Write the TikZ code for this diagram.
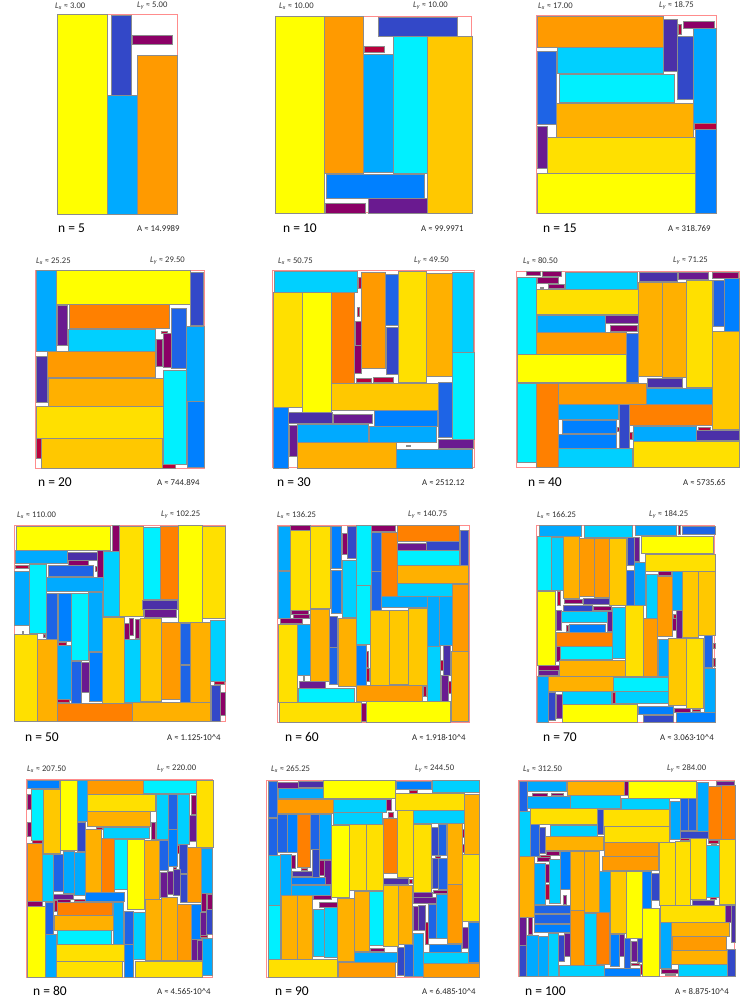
\documentclass[tikz,border=0pt]{standalone}
\usepackage{fontspec}
\setmainfont{Carlito}
\definecolor{Y1}{HTML}{FFFF00}
\definecolor{Y2}{HTML}{FFE000}
\definecolor{Y3}{HTML}{FFC800}
\definecolor{O1}{HTML}{FFB000}
\definecolor{O2}{HTML}{FF9A00}
\definecolor{O3}{HTML}{FF8000}
\definecolor{C1}{HTML}{00F0FF}
\definecolor{C2}{HTML}{00D0FF}
\definecolor{C3}{HTML}{00AAFF}
\definecolor{B1}{HTML}{0080FF}
\definecolor{B2}{HTML}{1E64E6}
\definecolor{B3}{HTML}{3348C8}
\definecolor{P1}{HTML}{4B30A8}
\definecolor{P2}{HTML}{6A1A90}
\definecolor{M1}{HTML}{8B0066}
\definecolor{M2}{HTML}{B8003C}
\newcommand\Rct[5]{\filldraw[fill=#5,draw=black!45,line width=0.25pt] (#1,#2) rectangle (#3,#4);}
\newcommand\Frm[4]{\draw[draw=red!45,line width=0.6pt] (#1,#2) rectangle (#3,#4);}
\newcommand\LxT[1]{{\itshape L\textsubscript{x}} ≈ #1}
\newcommand\LyT[1]{{\itshape L\textsubscript{y}} ≈ #1}
\begin{document}
\begin{tikzpicture}[x=1pt,y=-1pt,
  lab/.style={font=\fontsize{8.6}{9}\selectfont,text=black!80,inner sep=0pt,anchor=west},
  nlab/.style={font=\fontsize{13.5}{14}\selectfont,inner sep=0pt,anchor=west},
  alab/.style={font=\fontsize{8.8}{9}\selectfont,text=black!85,inner sep=0pt,anchor=west}]
\fill[white] (0,0) rectangle (747,1000);
\useasboundingbox (0,0) rectangle (747,1000);
% ---------- panel 1
\begin{scope}[shift={(40,0)},scale=1/3]
\Frm{52}{42}{412}{642}
\Rct{52}{42}{202}{642}{Y1}
\Rct{212}{45}{272}{285}{B3}
\Rct{202}{285}{292}{642}{C3}
\Rct{292}{165}{412}{642}{O2}
\Rct{277}{105}{397}{133}{M1}
\end{scope}
% ---------- panel 2
\begin{scope}[shift={(260,0)},scale=1/3]
\Frm{45}{48}{635}{638}
\Rct{45}{48}{192}{638}{Y1}
\Rct{192}{48}{310}{520}{O2}
\Rct{355}{50}{590}{107}{B3}
\Rct{312}{138}{372}{155}{M2}
\Rct{310}{162}{398}{515}{C3}
\Rct{398}{108}{502}{520}{C1}
\Rct{502}{108}{635}{638}{Y3}
\Rct{198}{522}{493}{595}{B1}
\Rct{196}{608}{315}{638}{M1}
\Rct{323}{595}{500}{638}{P2}
\end{scope}
% ---------- panel 3
\begin{scope}[shift={(520,0)},scale=1/3]
\Frm{50}{45}{588}{640}
\Rct{52}{48}{430}{142}{O2}
\Rct{430}{57}{470}{213}{P1}
\Rct{474}{72}{484}{102}{M2}
\Rct{488}{62}{582}{85}{M1}
\Rct{470}{108}{518}{297}{B3}
\Rct{518}{85}{588}{370}{C3}
\Rct{112}{142}{430}{220}{C2}
\Rct{52}{153}{108}{372}{B2}
\Rct{116}{222}{462}{307}{C1}
\Rct{108}{308}{518}{410}{O1}
\Rct{52}{378}{82}{503}{P2}
\Rct{523}{370}{588}{387}{M2}
\Rct{82}{412}{525}{520}{Y2}
\Rct{52}{520}{525}{640}{Y1}
\Rct{525}{387}{588}{640}{B1}
\end{scope}
% ---------- panel 4
\begin{scope}[shift={(20,255)},scale=1/3]
\Frm{45}{45}{553}{640}
\Rct{47}{45}{107}{287}{C3}
\Rct{108}{45}{510}{147}{Y1}
\Rct{510}{50}{550}{210}{B3}
\Rct{110}{150}{140}{270}{P2}
\Rct{147}{148}{448}{220}{O3}
\Rct{145}{222}{405}{287}{C2}
\Rct{422}{228}{442}{233}{M2}
\Rct{407}{253}{427}{333}{M1}
\Rct{428}{233}{452}{335}{M1}
\Rct{453}{160}{498}{340}{B2}
\Rct{498}{213}{553}{437}{C3}
\Rct{47}{302}{82}{440}{P1}
\Rct{82}{288}{405}{367}{O2}
\Rct{85}{368}{428}{453}{O1}
\Rct{428}{345}{498}{628}{C1}
\Rct{47}{453}{428}{550}{Y2}
\Rct{47}{550}{63}{610}{M2}
\Rct{63}{550}{425}{640}{Y3}
\Rct{500}{437}{553}{637}{B1}
\Rct{425}{628}{465}{640}{M2}
\end{scope}
% ---------- panel 5
\begin{scope}[shift={(260,255)},scale=1/3]
\Frm{38}{45}{642}{638}
\Rct{42}{48}{292}{110}{C2}
\Rct{293}{65}{302}{100}{M2}
\Rct{303}{52}{375}{338}{O2}
\Rct{375}{57}{415}{210}{B2}
\Rct{378}{215}{413}{357}{B3}
\Rct{415}{48}{498}{382}{Y2}
\Rct{498}{53}{577}{362}{O1}
\Rct{577}{50}{640}{290}{C2}
\Rct{38}{112}{125}{457}{Y2}
\Rct{125}{112}{213}{470}{Y1}
\Rct{213}{112}{282}{385}{O3}
\Rct{291}{157}{298}{183}{M2}
\Rct{285}{198}{302}{270}{M1}
\Rct{282}{270}{303}{353}{M1}
\Rct{287}{370}{333}{380}{M2}
\Rct{340}{367}{398}{382}{M2}
\Rct{213}{385}{535}{465}{Y3}
\Rct{577}{290}{642}{552}{C1}
\Rct{535}{380}{577}{545}{B2}
\Rct{38}{457}{85}{638}{B1}
\Rct{85}{472}{217}{503}{P1}
\Rct{218}{477}{335}{505}{P2}
\Rct{342}{465}{532}{512}{B1}
\Rct{87}{510}{110}{602}{P2}
\Rct{110}{507}{325}{560}{C3}
\Rct{327}{513}{528}{562}{C3}
\Rct{535}{553}{640}{580}{P2}
\Rct{438}{570}{450}{574}{M2}
\Rct{110}{562}{408}{638}{O1}
\Rct{408}{582}{637}{638}{C3}
\end{scope}
% ---------- panel 6
\begin{scope}[shift={(505,255)},scale=1/3]
\Frm{33}{48}{702}{638}
\Rct{62}{48}{105}{60}{M1}
\Rct{110}{48}{168}{63}{M1}
\Rct{95}{67}{160}{83}{M1}
\Rct{128}{88}{178}{100}{M1}
\Rct{105}{95}{115}{99}{M2}
\Rct{180}{50}{395}{102}{C2}
\Rct{402}{50}{515}{77}{P1}
\Rct{518}{50}{608}{73}{P2}
\Rct{620}{50}{700}{68}{M1}
\Rct{35}{67}{92}{298}{C1}
\Rct{92}{102}{398}{178}{Y2}
\Rct{95}{180}{300}{230}{C3}
\Rct{300}{180}{400}{203}{P2}
\Rct{315}{210}{397}{228}{M1}
\Rct{92}{232}{363}{298}{O2}
\Rct{363}{233}{400}{380}{B2}
\Rct{35}{298}{363}{380}{Y1}
\Rct{400}{80}{470}{362}{O1}
\Rct{470}{80}{542}{367}{O1}
\Rct{542}{75}{622}{397}{Y2}
\Rct{623}{75}{657}{213}{B2}
\Rct{657}{70}{702}{228}{B1}
\Rct{622}{228}{702}{522}{Y3}
\Rct{425}{368}{530}{397}{P1}
\Rct{35}{383}{93}{622}{C1}
\Rct{93}{383}{158}{635}{O3}
\Rct{158}{383}{422}{447}{O2}
\Rct{422}{398}{622}{448}{C3}
\Rct{160}{448}{340}{492}{C3}
\Rct{342}{448}{373}{578}{B3}
\Rct{373}{448}{622}{510}{O3}
\Rct{170}{495}{333}{533}{B1}
\Rct{335}{515}{342}{528}{M2}
\Rct{372}{530}{382}{552}{M2}
\Rct{160}{537}{333}{578}{B1}
\Rct{383}{512}{573}{557}{C3}
\Rct{580}{515}{615}{525}{M2}
\Rct{573}{525}{702}{555}{P1}
\Rct{158}{580}{382}{635}{C2}
\Rct{383}{558}{702}{635}{Y2}
\end{scope}
% ---------- panel 7
\begin{scope}[shift={(0,508)},scale=1/3]
\Frm{42}{52}{676}{640}
\Rct{47}{55}{330}{125}{Y1}
\Rct{337}{52}{357}{128}{M1}
\Rct{357}{55}{428}{325}{Y2}
\Rct{428}{57}{480}{272}{C1}
\Rct{480}{55}{535}{272}{O3}
\Rct{535}{52}{607}{342}{Y1}
\Rct{607}{55}{676}{330}{Y2}
\Rct{45}{125}{202}{165}{C3}
\Rct{202}{132}{290}{155}{P1}
\Rct{203}{155}{265}{170}{M1}
\Rct{290}{127}{308}{208}{M1}
\Rct{45}{172}{85}{180}{M2}
\Rct{145}{170}{278}{205}{B2}
\Rct{285}{173}{290}{188}{M2}
\Rct{308}{130}{358}{325}{C2}
\Rct{42}{188}{87}{352}{C3}
\Rct{87}{168}{137}{375}{C1}
\Rct{137}{207}{310}{250}{C3}
\Rct{137}{255}{172}{392}{B2}
\Rct{175}{255}{212}{400}{B1}
\Rct{212}{255}{263}{455}{C1}
\Rct{263}{252}{307}{430}{C3}
\Rct{427}{275}{530}{302}{P1}
\Rct{432}{302}{528}{327}{P2}
\Rct{42}{377}{110}{640}{Y2}
\Rct{110}{393}{172}{640}{O1}
\Rct{65}{370}{68}{377}{M2}
\Rct{130}{377}{135}{388}{M2}
\Rct{175}{403}{198}{410}{M2}
\Rct{172}{412}{212}{575}{C3}
\Rct{213}{458}{243}{585}{B2}
\Rct{243}{462}{268}{552}{P2}
\Rct{268}{432}{307}{580}{B1}
\Rct{307}{327}{372}{585}{Y3}
\Rct{373}{345}{386}{392}{M1}
\Rct{387}{330}{398}{382}{M1}
\Rct{405}{332}{418}{390}{M1}
\Rct{372}{392}{420}{583}{C2}
\Rct{420}{330}{482}{580}{Y3}
\Rct{482}{342}{540}{572}{O2}
\Rct{540}{345}{570}{468}{B2}
\Rct{540}{470}{570}{583}{B2}
\Rct{570}{342}{630}{583}{O1}
\Rct{630}{335}{676}{518}{C2}
\Rct{643}{520}{672}{527}{M2}
\Rct{632}{532}{660}{640}{B3}
\Rct{660}{552}{676}{620}{M1}
\Rct{172}{573}{207}{582}{M2}
\Rct{172}{585}{395}{640}{O3}
\Rct{395}{583}{630}{640}{O1}
\end{scope}
% ---------- panel 8
\begin{scope}[shift={(260,508)},scale=1/3]
\Frm{52}{52}{628}{642}
\Rct{55}{55}{90}{187}{C3}
\Rct{55}{188}{90}{330}{C3}
\Rct{90}{52}{150}{65}{M1}
\Rct{90}{67}{150}{305}{Y2}
\Rct{150}{55}{210}{300}{Y2}
\Rct{212}{55}{243}{180}{B1}
\Rct{212}{185}{243}{315}{B1}
\Rct{245}{75}{262}{137}{M1}
\Rct{262}{55}{288}{150}{B3}
\Rct{245}{157}{288}{328}{C2}
\Rct{288}{52}{332}{232}{C1}
\Rct{288}{232}{330}{408}{C1}
\Rct{333}{72}{362}{190}{B2}
\Rct{333}{190}{362}{305}{B2}
\Rct{362}{72}{410}{265}{O3}
\Rct{333}{52}{405}{70}{M1}
\Rct{410}{52}{598}{98}{O3}
\Rct{412}{105}{497}{125}{P2}
\Rct{497}{100}{597}{125}{B3}
\Rct{600}{65}{625}{170}{B3}
\Rct{412}{125}{597}{172}{C1}
\Rct{410}{172}{625}{225}{O1}
\Rct{410}{225}{575}{265}{C2}
\Rct{575}{228}{625}{430}{O2}
\Rct{362}{265}{500}{298}{C3}
\Rct{92}{305}{145}{318}{M1}
\Rct{100}{318}{147}{330}{M1}
\Rct{60}{330}{125}{345}{M1}
\Rct{55}{347}{112}{583}{Y2}
\Rct{112}{348}{150}{502}{C3}
\Rct{150}{302}{207}{518}{O1}
\Rct{207}{325}{232}{418}{B3}
\Rct{207}{418}{232}{527}{B2}
\Rct{235}{330}{287}{535}{O1}
\Rct{287}{410}{318}{530}{B1}
\Rct{318}{430}{325}{478}{M2}
\Rct{318}{480}{328}{520}{M2}
\Rct{330}{305}{387}{530}{Y3}
\Rct{387}{305}{443}{527}{Y3}
\Rct{443}{300}{500}{530}{Y3}
\Rct{500}{265}{538}{415}{C3}
\Rct{538}{265}{575}{412}{C3}
\Rct{500}{415}{540}{578}{C2}
\Rct{540}{455}{548}{485}{M2}
\Rct{548}{412}{570}{502}{P1}
\Rct{543}{502}{563}{578}{P2}
\Rct{563}{520}{573}{555}{M2}
\Rct{573}{430}{625}{640}{O1}
\Rct{117}{518}{195}{540}{P2}
\Rct{128}{505}{133}{518}{M2}
\Rct{113}{540}{283}{583}{C1}
\Rct{287}{532}{485}{580}{O2}
\Rct{490}{535}{497}{565}{M2}
\Rct{58}{583}{302}{642}{Y2}
\Rct{303}{585}{318}{640}{M1}
\Rct{318}{580}{570}{642}{Y1}
\end{scope}
% ---------- panel 9
\begin{scope}[shift={(510,508)},scale=1/3]
\Frm{80}{52}{614}{642}
\Rct{88}{52}{213}{83}{C3}
\Rct{222}{52}{365}{87}{C2}
\Rct{375}{52}{497}{80}{C3}
\Rct{503}{52}{510}{77}{M2}
\Rct{515}{55}{614}{78}{B2}
\Rct{80}{85}{122}{247}{C1}
\Rct{122}{87}{160}{245}{C2}
\Rct{160}{85}{208}{270}{O1}
\Rct{208}{90}{252}{265}{O2}
\Rct{252}{90}{297}{268}{O2}
\Rct{297}{90}{347}{290}{Y3}
\Rct{350}{88}{372}{172}{B3}
\Rct{372}{88}{388}{160}{P2}
\Rct{393}{83}{610}{135}{Y1}
\Rct{405}{137}{614}{188}{Y2}
\Rct{348}{187}{373}{290}{B2}
\Rct{373}{162}{405}{290}{C3}
\Rct{407}{197}{440}{330}{C2}
\Rct{445}{190}{482}{200}{M1}
\Rct{442}{205}{487}{385}{O2}
\Rct{487}{190}{517}{307}{C3}
\Rct{517}{190}{565}{388}{Y3}
\Rct{565}{190}{614}{380}{Y3}
\Rct{80}{248}{135}{470}{Y1}
\Rct{140}{250}{150}{292}{M2}
\Rct{162}{272}{217}{285}{M1}
\Rct{220}{270}{297}{287}{P1}
\Rct{158}{290}{245}{308}{B3}
\Rct{250}{293}{302}{305}{M1}
\Rct{137}{305}{152}{365}{P2}
\Rct{152}{310}{290}{343}{C2}
\Rct{290}{308}{305}{370}{P2}
\Rct{305}{297}{345}{450}{C2}
\Rct{345}{292}{398}{505}{Y2}
\Rct{398}{330}{440}{505}{O2}
\Rct{490}{317}{497}{330}{M2}
\Rct{497}{307}{517}{390}{P2}
\Rct{487}{330}{497}{365}{M1}
\Rct{168}{350}{173}{370}{M2}
\Rct{177}{347}{285}{372}{B1}
\Rct{137}{372}{305}{413}{O3}
\Rct{138}{415}{150}{460}{M1}
\Rct{150}{415}{307}{453}{C1}
\Rct{443}{392}{473}{505}{C3}
\Rct{475}{390}{527}{592}{Y3}
\Rct{527}{390}{580}{600}{Y2}
\Rct{582}{380}{607}{477}{B2}
\Rct{608}{405}{614}{420}{M2}
\Rct{608}{450}{614}{473}{M2}
\Rct{85}{472}{147}{487}{M1}
\Rct{85}{487}{145}{500}{P2}
\Rct{147}{455}{345}{503}{O1}
\Rct{115}{503}{308}{548}{O1}
\Rct{80}{503}{115}{642}{C3}
\Rct{115}{553}{135}{635}{B3}
\Rct{137}{557}{155}{630}{P2}
\Rct{310}{507}{475}{548}{C1}
\Rct{155}{550}{302}{587}{C2}
\Rct{307}{553}{315}{585}{M2}
\Rct{315}{550}{475}{585}{C2}
\Rct{582}{480}{614}{612}{C3}
\Rct{157}{588}{382}{642}{Y1}
\Rct{383}{593}{490}{618}{B1}
\Rct{398}{620}{490}{642}{B3}
\Rct{492}{600}{540}{612}{M1}
\Rct{545}{603}{570}{610}{M2}
\Rct{497}{613}{614}{642}{B1}
\end{scope}
% ---------- panel 10
\begin{scope}[shift={(0,762)},scale=1/3]
\Frm{80}{52}{638}{645}
\Rct{80}{55}{178}{78}{B1}
\Rct{92}{80}{130}{235}{C1}
\Rct{80}{95}{92}{142}{M1}
\Rct{80}{180}{92}{222}{M1}
\Rct{97}{235}{127}{242}{M2}
\Rct{130}{80}{180}{272}{Y3}
\Rct{180}{55}{232}{265}{Y1}
\Rct{232}{55}{262}{177}{C3}
\Rct{262}{55}{430}{95}{O2}
\Rct{430}{55}{587}{92}{C1}
\Rct{587}{55}{638}{255}{Y2}
\Rct{262}{97}{465}{147}{Y2}
\Rct{262}{148}{450}{193}{O1}
\Rct{452}{180}{465}{230}{M1}
\Rct{232}{180}{255}{268}{B3}
\Rct{288}{195}{305}{200}{M2}
\Rct{308}{195}{447}{228}{C2}
\Rct{467}{95}{503}{232}{C2}
\Rct{503}{95}{530}{200}{B2}
\Rct{530}{97}{568}{245}{C2}
\Rct{572}{100}{587}{157}{M1}
\Rct{568}{160}{587}{237}{P2}
\Rct{80}{242}{125}{418}{O2}
\Rct{125}{275}{160}{418}{C2}
\Rct{160}{275}{188}{388}{B2}
\Rct{188}{268}{222}{392}{C3}
\Rct{222}{270}{255}{400}{C3}
\Rct{255}{202}{302}{390}{O1}
\Rct{302}{228}{342}{390}{O3}
\Rct{342}{230}{380}{380}{C1}
\Rct{380}{230}{433}{440}{Y1}
\Rct{433}{233}{478}{412}{O1}
\Rct{478}{235}{503}{325}{B2}
\Rct{503}{202}{530}{312}{B1}
\Rct{530}{250}{538}{272}{M2}
\Rct{538}{245}{562}{332}{B3}
\Rct{560}{255}{603}{420}{O2}
\Rct{603}{257}{635}{392}{C3}
\Rct{480}{330}{500}{405}{P2}
\Rct{500}{327}{518}{395}{P2}
\Rct{518}{320}{540}{398}{P1}
\Rct{540}{337}{560}{420}{B3}
\Rct{518}{315}{528}{322}{M2}
\Rct{80}{418}{125}{432}{M1}
\Rct{160}{395}{220}{410}{P2}
\Rct{160}{410}{210}{420}{M1}
\Rct{222}{410}{255}{418}{M2}
\Rct{255}{390}{372}{418}{B1}
\Rct{80}{432}{135}{645}{Y1}
\Rct{135}{420}{160}{515}{B2}
\Rct{162}{415}{170}{448}{M2}
\Rct{170}{420}{335}{460}{O3}
\Rct{338}{420}{370}{545}{C3}
\Rct{162}{460}{338}{505}{O1}
\Rct{172}{505}{333}{545}{C1}
\Rct{135}{515}{167}{645}{C3}
\Rct{167}{545}{372}{598}{Y2}
\Rct{168}{598}{365}{645}{Y2}
\Rct{373}{448}{398}{545}{B2}
\Rct{373}{545}{400}{645}{B1}
\Rct{400}{450}{435}{592}{C2}
\Rct{435}{412}{482}{595}{O1}
\Rct{482}{405}{530}{595}{O1}
\Rct{530}{425}{573}{595}{O2}
\Rct{573}{425}{603}{530}{B1}
\Rct{604}{393}{618}{447}{M1}
\Rct{622}{397}{635}{440}{M1}
\Rct{600}{450}{618}{520}{P2}
\Rct{618}{440}{637}{515}{B3}
\Rct{600}{520}{622}{526}{M2}
\Rct{573}{532}{590}{595}{P2}
\Rct{590}{535}{607}{595}{P2}
\Rct{607}{527}{637}{640}{C3}
\Rct{405}{597}{607}{645}{Y2}
\end{scope}
% ---------- panel 11
\begin{scope}[shift={(255,762)},scale=1/3]
\Frm{35}{55}{672}{645}
\Rct{38}{57}{65}{165}{B2}
\Rct{38}{167}{65}{280}{B2}
\Rct{65}{60}{128}{77}{P2}
\Rct{128}{57}{203}{75}{P1}
\Rct{70}{78}{203}{108}{C3}
\Rct{203}{55}{420}{108}{Y1}
\Rct{423}{57}{528}{82}{B1}
\Rct{530}{55}{672}{90}{C2}
\Rct{462}{85}{485}{92}{M2}
\Rct{420}{92}{628}{145}{Y2}
\Rct{628}{95}{672}{275}{O1}
\Rct{65}{110}{235}{153}{O2}
\Rct{235}{110}{392}{150}{C2}
\Rct{393}{112}{408}{145}{M1}
\Rct{400}{150}{415}{165}{M2}
\Rct{235}{150}{382}{185}{C2}
\Rct{475}{145}{628}{183}{C2}
\Rct{65}{155}{95}{270}{B2}
\Rct{95}{155}{125}{270}{B1}
\Rct{125}{155}{165}{315}{O3}
\Rct{165}{155}{192}{260}{B2}
\Rct{192}{155}{228}{290}{C3}
\Rct{38}{280}{75}{430}{C2}
\Rct{75}{275}{107}{400}{C3}
\Rct{107}{278}{120}{318}{M1}
\Rct{137}{318}{157}{325}{M2}
\Rct{170}{262}{192}{345}{B3}
\Rct{192}{293}{208}{338}{M1}
\Rct{208}{295}{228}{365}{P2}
\Rct{112}{328}{170}{343}{P1}
\Rct{107}{345}{210}{367}{B1}
\Rct{107}{370}{225}{398}{C3}
\Rct{228}{190}{283}{405}{Y1}
\Rct{283}{185}{333}{385}{Y2}
\Rct{333}{185}{383}{385}{Y2}
\Rct{383}{168}{425}{333}{O3}
\Rct{425}{145}{475}{345}{Y2}
\Rct{475}{185}{527}{390}{Y2}
\Rct{527}{195}{550}{280}{B3}
\Rct{550}{187}{572}{280}{B2}
\Rct{541}{283}{555}{288}{M2}
\Rct{530}{288}{550}{378}{B3}
\Rct{550}{288}{577}{380}{B2}
\Rct{575}{183}{622}{367}{O1}
\Rct{622}{200}{628}{225}{M2}
\Rct{622}{245}{628}{270}{M2}
\Rct{622}{275}{672}{478}{Y2}
\Rct{383}{347}{460}{365}{P1}
\Rct{463}{350}{470}{363}{M2}
\Rct{175}{400}{228}{412}{M1}
\Rct{193}{420}{245}{435}{M1}
\Rct{38}{430}{75}{590}{C1}
\Rct{78}{400}{125}{590}{O1}
\Rct{125}{400}{172}{590}{O1}
\Rct{175}{440}{208}{582}{C2}
\Rct{208}{435}{245}{585}{C2}
\Rct{245}{408}{297}{598}{O1}
\Rct{297}{387}{342}{568}{O1}
\Rct{342}{388}{383}{548}{C1}
\Rct{383}{368}{428}{553}{Y3}
\Rct{428}{368}{472}{545}{O1}
\Rct{473}{390}{530}{405}{P2}
\Rct{475}{405}{542}{422}{P2}
\Rct{535}{383}{577}{393}{M1}
\Rct{475}{432}{490}{505}{P2}
\Rct{490}{430}{510}{505}{P1}
\Rct{518}{425}{542}{527}{B2}
\Rct{542}{395}{577}{527}{C3}
\Rct{577}{367}{622}{542}{O2}
\Rct{510}{480}{518}{545}{M2}
\Rct{622}{495}{640}{557}{P2}
\Rct{640}{480}{672}{600}{B1}
\Rct{345}{558}{388}{568}{M1}
\Rct{522}{545}{618}{570}{B1}
\Rct{297}{570}{425}{600}{C3}
\Rct{425}{555}{447}{638}{B3}
\Rct{447}{545}{475}{642}{B2}
\Rct{475}{512}{505}{642}{C3}
\Rct{505}{570}{640}{602}{C2}
\Rct{38}{592}{247}{645}{Y2}
\Rct{248}{600}{420}{645}{O2}
\Rct{505}{603}{672}{645}{O2}
\end{scope}
% ---------- panel 12
\begin{scope}[shift={(507,762)},scale=1/3]
\Frm{35}{55}{683}{643}
\Rct{35}{57}{60}{147}{B2}
\Rct{60}{57}{178}{88}{C3}
\Rct{75}{92}{120}{102}{M1}
\Rct{133}{93}{168}{100}{M1}
\Rct{60}{103}{190}{137}{C3}
\Rct{180}{57}{350}{98}{O1}
\Rct{350}{57}{362}{100}{M1}
\Rct{362}{57}{568}{107}{Y1}
\Rct{190}{100}{340}{137}{C2}
\Rct{342}{108}{487}{142}{C2}
\Rct{570}{60}{603}{208}{C3}
\Rct{627}{57}{680}{70}{P2}
\Rct{603}{72}{643}{230}{O3}
\Rct{643}{70}{683}{230}{O3}
\Rct{35}{148}{70}{283}{C2}
\Rct{70}{137}{270}{187}{Y2}
\Rct{270}{140}{288}{215}{B3}
\Rct{288}{142}{487}{192}{Y2}
\Rct{490}{118}{518}{230}{C3}
\Rct{518}{107}{542}{205}{B2}
\Rct{542}{108}{568}{205}{B2}
\Rct{518}{207}{603}{228}{B3}
\Rct{70}{187}{95}{283}{B2}
\Rct{95}{195}{113}{272}{B3}
\Rct{130}{188}{270}{222}{C2}
\Rct{290}{192}{487}{240}{Y2}
\Rct{113}{223}{288}{265}{O1}
\Rct{290}{240}{453}{283}{O2}
\Rct{520}{228}{547}{235}{M2}
\Rct{117}{268}{155}{278}{M1}
\Rct{100}{278}{130}{285}{M2}
\Rct{90}{285}{128}{298}{M1}
\Rct{35}{283}{80}{465}{O1}
\Rct{285}{283}{453}{325}{O2}
\Rct{455}{240}{503}{430}{Y2}
\Rct{503}{237}{550}{430}{Y2}
\Rct{550}{228}{597}{412}{Y2}
\Rct{597}{250}{635}{405}{C2}
\Rct{635}{232}{683}{425}{Y2}
\Rct{603}{235}{633}{242}{M2}
\Rct{612}{245}{628}{250}{M2}
\Rct{80}{302}{113}{425}{C3}
\Rct{113}{305}{125}{360}{M1}
\Rct{113}{365}{125}{410}{M2}
\Rct{125}{292}{160}{422}{C2}
\Rct{160}{268}{188}{382}{B1}
\Rct{168}{398}{177}{425}{M1}
\Rct{188}{268}{232}{445}{O1}
\Rct{232}{268}{277}{450}{O1}
\Rct{277}{328}{308}{450}{C3}
\Rct{308}{328}{357}{512}{Y3}
\Rct{357}{328}{405}{528}{Y1}
\Rct{405}{328}{432}{438}{B1}
\Rct{432}{332}{455}{415}{B3}
\Rct{610}{405}{628}{412}{M2}
\Rct{555}{413}{622}{430}{P1}
\Rct{458}{430}{655}{480}{Y2}
\Rct{655}{428}{672}{480}{P2}
\Rct{672}{430}{683}{540}{P1}
\Rct{80}{428}{188}{452}{B2}
\Rct{80}{455}{190}{483}{B2}
\Rct{80}{485}{188}{510}{B1}
\Rct{35}{465}{58}{548}{P2}
\Rct{63}{465}{75}{515}{M1}
\Rct{188}{445}{232}{608}{O2}
\Rct{232}{452}{268}{608}{C2}
\Rct{268}{450}{307}{605}{O3}
\Rct{405}{438}{455}{643}{Y1}
\Rct{458}{480}{492}{618}{C3}
\Rct{492}{480}{665}{522}{O1}
\Rct{495}{522}{657}{565}{O2}
\Rct{492}{565}{660}{605}{O1}
\Rct{660}{560}{683}{643}{B3}
\Rct{58}{518}{92}{643}{C3}
\Rct{92}{523}{122}{643}{C3}
\Rct{122}{513}{152}{643}{C2}
\Rct{35}{548}{58}{643}{B3}
\Rct{152}{520}{172}{597}{B3}
\Rct{172}{513}{190}{582}{P2}
\Rct{308}{515}{335}{612}{B1}
\Rct{335}{515}{350}{582}{P2}
\Rct{350}{527}{370}{617}{B2}
\Rct{372}{538}{390}{597}{P2}
\Rct{390}{528}{405}{600}{B3}
\Rct{373}{603}{395}{610}{M2}
\Rct{398}{605}{405}{637}{M2}
\Rct{155}{608}{292}{643}{C2}
\Rct{292}{618}{398}{643}{B1}
\Rct{462}{622}{512}{633}{M1}
\Rct{475}{635}{505}{640}{M2}
\Rct{513}{607}{660}{643}{C2}
\end{scope}
% ---------- labels
\node[lab] (lx1) at (55,6) {\LxT{3.00}};
\node[lab] (ly1) at (137,6) {\LyT{5.00}};
\node[nlab] (n1) at (58,228) {n = 5};
\node[alab] (a1) at (137,229) {A ≈ 14.9989};
\node[lab] (lx2) at (279,6) {\LxT{10.00}};
\node[lab] (ly2) at (413,6) {\LyT{10.00}};
\node[nlab] (n2) at (283,228) {n = 10};
\node[alab] (a2) at (421,229) {A ≈ 99.9971};
\node[lab] (lx3) at (538,6) {\LxT{17.00}};
\node[lab] (ly3) at (659,6) {\LyT{18.75}};
\node[nlab] (n3) at (543,228) {n = 15};
\node[alab] (a3) at (668,229) {A ≈ 318.769};
\node[lab] (lx4) at (36,261) {\LxT{25.25}};
\node[lab] (ly4) at (150,261) {\LyT{29.50}};
\node[nlab] (n4) at (38,482) {n = 20};
\node[alab] (a4) at (157,483) {A ≈ 744.894};
\node[lab] (lx5) at (278,261) {\LxT{50.75}};
\node[lab] (ly5) at (414,261) {\LyT{49.50}};
\node[nlab] (n5) at (277,482) {n = 30};
\node[alab] (a5) at (422,483) {A ≈ 2512.12};
\node[lab] (lx6) at (523,261) {\LxT{80.50}};
\node[lab] (ly6) at (673,261) {\LyT{71.25}};
\node[nlab] (n6) at (528,482) {n = 40};
\node[alab] (a6) at (683,483) {A ≈ 5735.65};
\node[lab] (lx7) at (17,515) {\LxT{110.00}};
\node[lab] (ly7) at (161,515) {\LyT{102.25}};
\node[nlab] (n7) at (25,737) {n = 50};
\node[alab] (a7) at (167,738) {A ≈ 1.125·10\^{}4};
\node[lab] (lx8) at (277,515) {\LxT{136.25}};
\node[lab] (ly8) at (408,515) {\LyT{140.75}};
\node[nlab] (n8) at (285,737) {n = 60};
\node[alab] (a8) at (412,738) {A ≈ 1.918·10\^{}4};
\node[lab] (lx9) at (537,515) {\LxT{166.25}};
\node[lab] (ly9) at (649,515) {\LyT{184.25}};
\node[nlab] (n9) at (543,737) {n = 70};
\node[alab] (a9) at (660,738) {A ≈ 3.063·10\^{}4};
\node[lab] (lx10) at (27,769) {\LxT{207.50}};
\node[lab] (ly10) at (157,769) {\LyT{220.00}};
\node[nlab] (n10) at (33,991) {n = 80};
\node[alab] (a10) at (157,992) {A ≈ 4.565·10\^{}4};
\node[lab] (lx11) at (271,769) {\LxT{265.25}};
\node[lab] (ly11) at (415,769) {\LyT{244.50}};
\node[nlab] (n11) at (275,991) {n = 90};
\node[alab] (a11) at (422,992) {A ≈ 6.485·10\^{}4};
\node[lab] (lx12) at (523,769) {\LxT{312.50}};
\node[lab] (ly12) at (667,769) {\LyT{284.00}};
\node[nlab] (n12) at (525,991) {n = 100};
\node[alab] (a12) at (675,992) {A ≈ 8.875·10\^{}4};
\end{tikzpicture}
\end{document}
